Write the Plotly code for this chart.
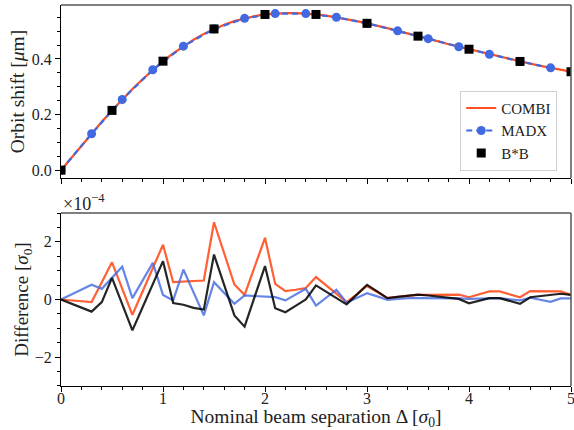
import plotly.graph_objects as go

# ---- data ----
sep = [round(0.1 * i, 1) for i in range(51)]
combi = [0.000, 0.044, 0.088, 0.131, 0.174, 0.215, 0.254, 0.292, 0.327, 0.361,
         0.392, 0.420, 0.446, 0.469, 0.490, 0.508, 0.523, 0.536, 0.546, 0.554,
         0.560, 0.563, 0.565, 0.565, 0.563, 0.560, 0.556, 0.550, 0.543, 0.536,
         0.528, 0.520, 0.511, 0.501, 0.492, 0.482, 0.473, 0.463, 0.453, 0.444,
         0.435, 0.426, 0.417, 0.408, 0.399, 0.391, 0.383, 0.375, 0.368, 0.361,
         0.354]
madx_sep = [0.0, 0.3, 0.6, 0.9, 1.2, 1.5, 1.8, 2.1, 2.4, 2.7, 3.0, 3.3, 3.6, 3.9, 4.2, 4.5, 4.8]
madx = [0.000, 0.131, 0.254, 0.361, 0.446, 0.508, 0.546, 0.563, 0.563, 0.550,
        0.528, 0.501, 0.473, 0.444, 0.417, 0.391, 0.368]
bb_sep = [0.0, 0.5, 1.0, 1.5, 2.0, 2.5, 3.0, 3.5, 4.0, 4.5, 5.0]
bb = [0.000, 0.215, 0.392, 0.508, 0.560, 0.560, 0.528, 0.482, 0.435, 0.391, 0.354]

# differences, in units of 1e-4 sigma_0
diff_combi = [0.00, -0.03, -0.06, -0.09, 0.60, 1.29, 0.38, -0.53, 0.28, 1.09,
              1.90, 0.60, 0.62, 0.64, 0.66, 2.68, 1.60, 0.52, 0.16, 1.15,
              2.14, 0.54, 0.29, 0.34, 0.40, 0.78, 0.49, 0.20, -0.09, 0.18,
              0.47, 0.26, 0.05, 0.09, 0.13, 0.16, 0.16, 0.17, 0.17, 0.17,
              0.08, 0.18, 0.28, 0.28, 0.18, 0.08, 0.29, 0.29, 0.29, 0.28,
              0.16]
diff_madx = [0.00, 0.17, 0.34, 0.51, 0.37, 0.76, 1.14, 0.05, 0.66, 1.27,
             0.16, -0.03, 1.04, 0.25, -0.55, 0.60, 0.23, -0.15, 0.14, 0.12,
             0.10, 0.08, -0.03, 0.17, 0.37, -0.21, 0.07, 0.34, -0.11, 0.06,
             0.22, 0.11, -0.01, 0.02, 0.05, 0.05, 0.05, 0.05, 0.05, 0.04,
             0.02, 0.03, 0.05, 0.05, 0.01, -0.03, 0.06, 0.00, -0.08, 0.04,
             0.04]
diff_bb = [0.00, -0.14, -0.28, -0.42, -0.09, 0.75, -0.16, -1.07, -0.27, 0.53,
           1.33, -0.12, -0.18, -0.29, -0.35, 1.56, 0.50, -0.55, -0.94, 0.11,
           1.16, -0.30, -0.44, -0.22, 0.00, 0.49, 0.27, 0.05, -0.17, 0.17,
           0.51, 0.28, 0.05, 0.09, 0.13, 0.17, 0.14, 0.10, 0.06, 0.02,
           -0.13, -0.04, 0.05, 0.05, -0.05, -0.15, 0.08, 0.12, 0.16, 0.20,
           0.16]

x_ticks = [0, 1, 2, 3, 4, 5]
top_ticks = [0.0, 0.2, 0.4]
bot_ticks = [-2, 0, 2]

ORANGE = "#FF4F1F"
BLUE = "#4169E1"
FONT = "Liberation Serif"

fig = go.Figure()

fig.add_trace(go.Scatter(x=sep, y=combi, mode="lines", name="COMBI",
                         line=dict(color=ORANGE, width=2.2), xaxis="x", yaxis="y"))
fig.add_trace(go.Scatter(x=madx_sep, y=madx, mode="lines+markers", name="MADX",
                         line=dict(color=BLUE, width=2.2, dash="6px,4px"),
                         marker=dict(color=BLUE, size=9, symbol="circle"),
                         xaxis="x", yaxis="y"))
fig.add_trace(go.Scatter(x=bb_sep, y=bb, mode="markers", name="B*B",
                         marker=dict(color="black", size=9, symbol="square"),
                         xaxis="x", yaxis="y"))

fig.add_trace(go.Scatter(x=sep, y=diff_combi, mode="lines", showlegend=False,
                         line=dict(color=ORANGE, width=2.2), opacity=0.9,
                         xaxis="x2", yaxis="y2"))
fig.add_trace(go.Scatter(x=sep, y=diff_madx, mode="lines", showlegend=False,
                         line=dict(color=BLUE, width=2.2), opacity=0.8,
                         xaxis="x2", yaxis="y2"))
fig.add_trace(go.Scatter(x=sep, y=diff_bb, mode="lines", showlegend=False,
                         line=dict(color="black", width=2.2), opacity=0.85,
                         xaxis="x2", yaxis="y2"))

axis_common = dict(showgrid=False, zeroline=False, showline=True, linecolor="black",
                   linewidth=1, ticks="outside", ticklen=5, tickwidth=1,
                   tickcolor="black", ticklabeloverflow="allow", automargin=False,
                   tickfont=dict(family=FONT, size=16, color="#222"))

fig.update_layout(
    width=574, height=430,
    margin=dict(l=61, r=3, t=5, b=44),
    paper_bgcolor="white", plot_bgcolor="white",
    font=dict(family=FONT, size=15, color="#222"),
    xaxis=dict(domain=[0, 1], anchor="y", range=[0, 5], tickvals=x_ticks,
               showticklabels=False,
               minor=dict(dtick=0.2, ticks="outside", ticklen=3, tickcolor="black"),
               **axis_common),
    yaxis=dict(domain=[0.546, 1], anchor="x", range=[-0.028, 0.594],
               tickvals=top_ticks, tickformat=".1f",
               minor=dict(dtick=0.05, ticks="outside", ticklen=3, tickcolor="black"),
               title=dict(text="Orbit shift [<i>μ</i>m]", font=dict(family=FONT, size=19.5), standoff=1),
               **axis_common),
    xaxis2=dict(domain=[0, 1], anchor="y2", range=[0, 5], tickvals=x_ticks,
                ticklabelstandoff=-7,
                minor=dict(dtick=0.2, ticks="outside", ticklen=3, tickcolor="black"),
                title=dict(text="Nominal beam separation Δ [<i>σ</i><sub>0</sub>]",
                           font=dict(family=FONT, size=19.5), standoff=11),
                **axis_common),
    yaxis2=dict(domain=[0, 0.454], anchor="x2", range=[-3, 3], tickvals=bot_ticks,
                minor=dict(dtick=0.5, ticks="outside", ticklen=3, tickcolor="black"),
                title=dict(text="Difference [<i>σ</i><sub>0</sub>]", font=dict(family=FONT, size=19), standoff=1),
                **axis_common),
    legend=dict(x=0.973, y=0.565, xanchor="right", yanchor="bottom",
                bgcolor="rgba(255,255,255,0.8)", bordercolor="#d0d0d0", borderwidth=1,
                font=dict(family=FONT, size=15, color="#222"), tracegroupgap=0,
                itemwidth=30),
    showlegend=True,
)

# top / right frame lines
for xr, yr in [("x domain", "y domain"), ("x2 domain", "y2 domain")]:
    fig.add_shape(type="line", xref=xr, yref=yr, x0=0, x1=1, y0=1, y1=1,
                  line=dict(color="#555", width=1.5))
    fig.add_shape(type="line", xref=xr, yref=yr, x0=1, x1=1, y0=0, y1=1,
                  line=dict(color="#555", width=1.5))

fig.add_annotation(text="×10<sup>−4</sup>", xref="x2 domain", yref="y2 domain",
                   x=0, y=1, xanchor="left", yanchor="bottom", yshift=-3, showarrow=False,
                   font=dict(family=FONT, size=18, color="#222"))

fig.write_html("out.html", config={"displayModeBar": False},
               post_script="document.body.style.margin='0';document.body.style.overflow='hidden';")
